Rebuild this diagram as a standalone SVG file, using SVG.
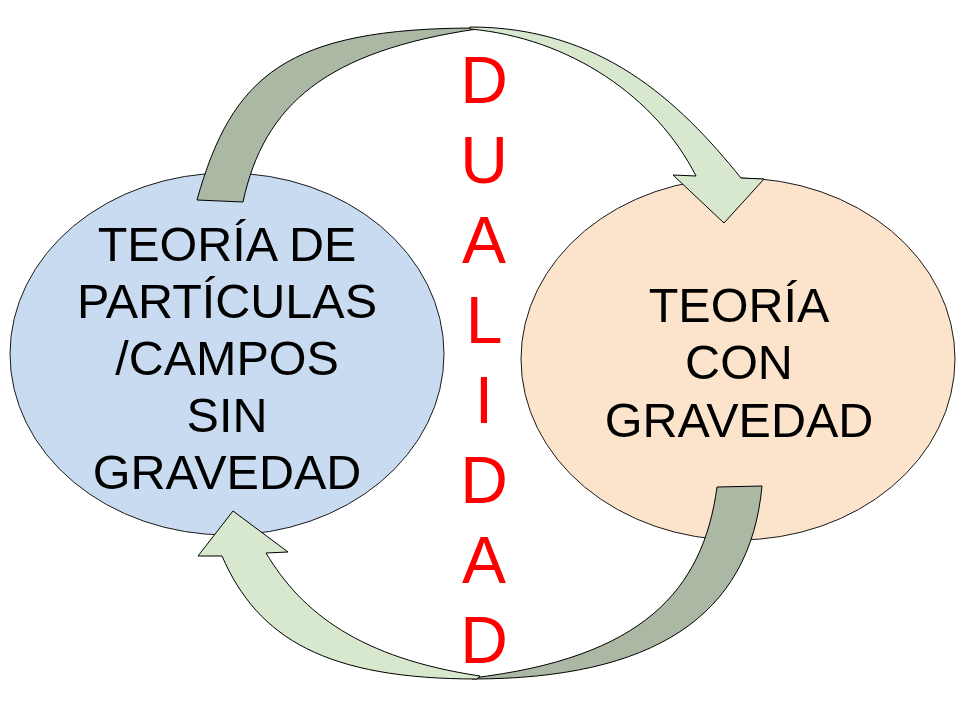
<svg xmlns="http://www.w3.org/2000/svg" width="960" height="720" viewBox="0 0 960 720">
<style>
.node { stroke:#1a1a1a; stroke-width:1; }
.lbl { font-family:"Liberation Sans", Arial, sans-serif; font-size:48.5px; fill:#000; text-anchor:middle; }
.dual { font-family:"Liberation Sans", Arial, sans-serif; font-size:66px; fill:#FF0000; text-anchor:middle; }
.back { fill:#AAB8A4; stroke:#000; stroke-width:1; stroke-linejoin:miter; }
.front { fill:#D7E8CF; stroke:#000; stroke-width:1; stroke-linejoin:miter; }
</style>
<rect x="0" y="0" width="960" height="720" fill="#FFFFFF"/>
<g id="node-sin-gravedad">
<ellipse class="node" cx="227" cy="354" rx="217" ry="181" fill="#C8DBF0"/>
</g>
<g id="node-con-gravedad">
<ellipse class="node" cx="738" cy="359" rx="217" ry="181" fill="#FCE3CB"/>
</g>
<g id="connectors">
<g id="arrow-top">
<path class="back" d="M197,200 C232,75 287,28 477,28 L477,29 C327,51 264,104 243,202 Z"/>
<path class="front" d="M470,27 C600,27 678,100 741,178 L764,179 L724,223 L673,175 L696,176 C656,97 570,38 470,29 Z"/>
</g>
<g id="arrow-bottom">
<path class="back" d="M717,487 L762,486 C750,617 652,679 472,679 L472,678 C642,658 703,591 717,487 Z"/>
<path class="front" d="M477,679 C327,679 258,639 222,556 L198,556 L233,511 L288,552 L266,553 C302,613 360,658 480,676 Z"/>
</g>
</g>
<g id="label-sin-gravedad">
<text class="lbl" x="227" y="261">TEORÍA DE</text>
<text class="lbl" x="227" y="318">PARTÍCULAS</text>
<text class="lbl" x="227" y="375">/CAMPOS</text>
<text class="lbl" x="227" y="432">SIN</text>
<text class="lbl" x="227" y="489">GRAVEDAD</text>
</g>
<g id="label-con-gravedad">
<text class="lbl" x="739" y="322">TEORÍA</text>
<text class="lbl" x="739" y="379">CON</text>
<text class="lbl" x="739" y="437">GRAVEDAD</text>
</g>
<g id="dualidad">
<text class="dual" x="484" y="103">D</text>
<text class="dual" x="484" y="183">U</text>
<text class="dual" x="484" y="263">A</text>
<text class="dual" x="484" y="343">L</text>
<text class="dual" x="484" y="423">I</text>
<text class="dual" x="484" y="503">D</text>
<text class="dual" x="484" y="583">A</text>
<text class="dual" x="484" y="663">D</text>
</g>
</svg>
